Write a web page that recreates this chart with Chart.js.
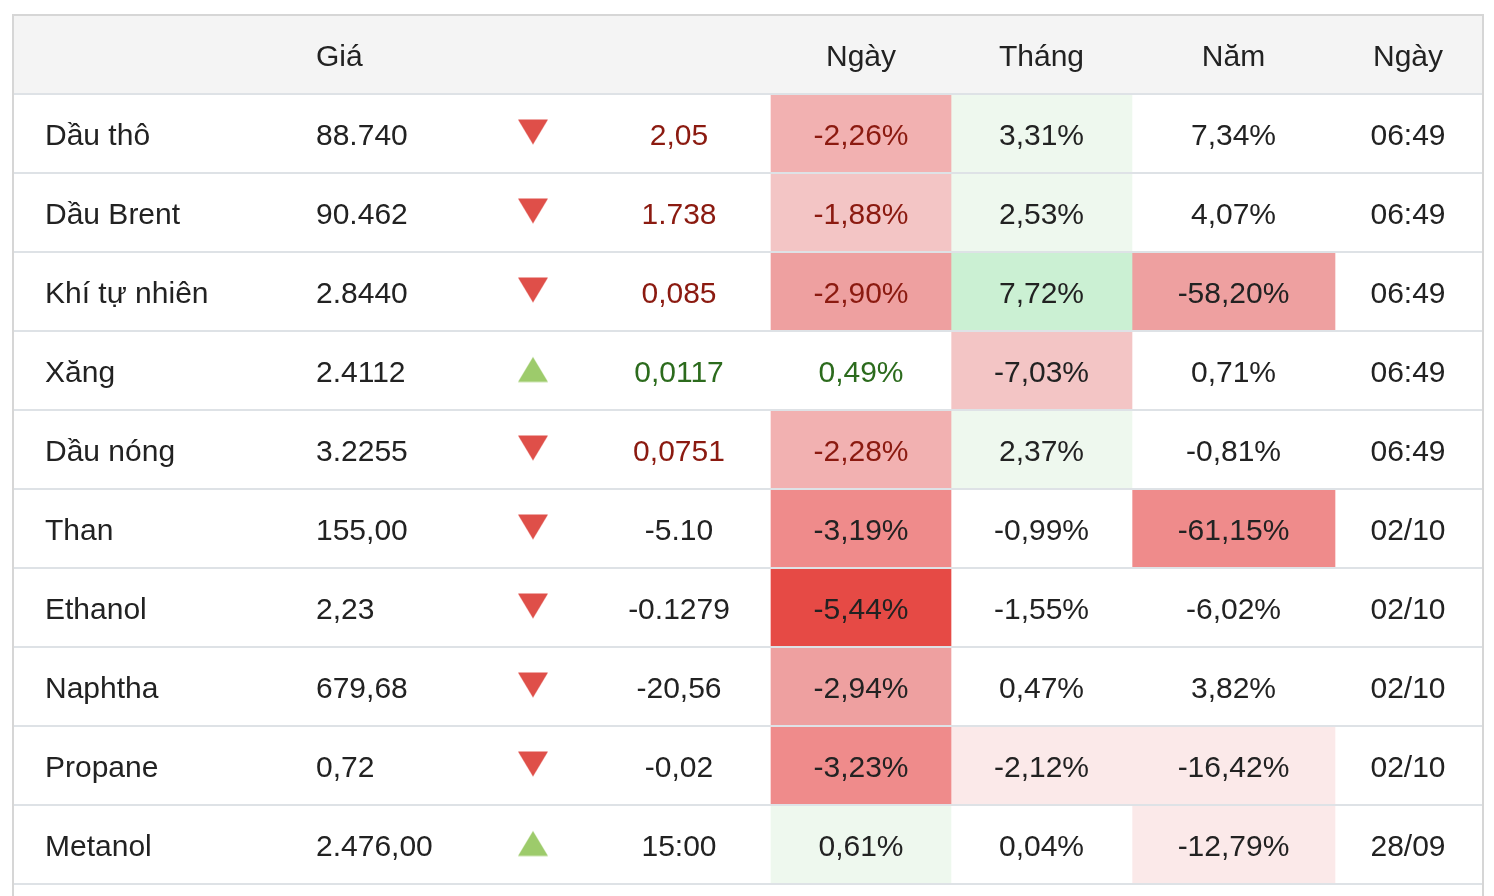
<!DOCTYPE html>
<html>
<head>
<meta charset="utf-8">
<script src="https://cdn.jsdelivr.net/npm/chart.js@4.4.1/dist/chart.umd.min.js"></script>
<style>
  html, body { margin: 0; padding: 0; background: #ffffff; }
  #c { display: block; }
</style>
</head>
<body>
<canvas id="c" width="1494" height="896"></canvas>
<script>
// ---------- DATA ----------
const headers = ['', 'Giá', '', '', 'Ngày', 'Tháng', 'Năm', 'Ngày'];
const names = ['Dầu thô', 'Dầu Brent', 'Khí tự nhiên', 'Xăng', 'Dầu nóng', 'Than', 'Ethanol', 'Naphtha', 'Propane', 'Metanol'];
const prices = ['88.740', '90.462', '2.8440', '2.4112', '3.2255', '155,00', '2,23', '679,68', '0,72', '2.476,00'];
const directions = ['down', 'down', 'down', 'up', 'down', 'down', 'down', 'down', 'down', 'up'];
const changes = ['2,05', '1.738', '0,085', '0,0117', '0,0751', '-5.10', '-0.1279', '-20,56', '-0,02', '15:00'];
const dayPct = [-2.26, -1.88, -2.90, 0.49, -2.28, -3.19, -5.44, -2.94, -3.23, 0.61];
const monthPct = [3.31, 2.53, 7.72, -7.03, 2.37, -0.99, -1.55, 0.47, -2.12, 0.04];
const yearPct = [7.34, 4.07, -58.20, 0.71, -0.81, -61.15, -6.02, 3.82, -16.42, -12.79];
const times = ['06:49', '06:49', '06:49', '06:49', '06:49', '02/10', '02/10', '02/10', '02/10', '28/09'];
// heat level of each cell (negative = red shades, positive = green shades, 0 = none)
const dayHeat = [-3, -2, -4, 0, -3, -5, -6, -4, -5, 1];
const monthHeat = [1, 1, 2, -2, 1, 0, 0, 0, -1, 0];
const yearHeat = [0, 0, -4, 0, 0, -5, 0, 0, -1, -1];
// text tone of the change / day columns
const tones = ['neg', 'neg', 'neg', 'pos', 'neg', '', '', '', '', ''];

// ---------- STYLE / LAYOUT ----------
const TABLE_W = 1470;
const COL = {
  name: 32, price: 303, arrow: 520, change: 666,
  day: [758, 938], month: [938, 1119], year: [1119, 1322], time: 1395
};
const HEAT = {
  '-6': '#e64a45', '-5': '#ef8b8b', '-4': '#eea0a0', '-3': '#f2b1b1',
  '-2': '#f3c5c5', '-1': '#fbe9e9', '0': '#ffffff', '1': '#eef8ee', '2': '#cbf0d3'
};
const TEXT = '#222222', NEG = '#8b1a10', POS = '#2c6b1d';
const FONT = '30px "Liberation Sans", Arial, Helvetica, sans-serif';

const rowLabels = [''].concat(names);
const fmtPct = v => v.toFixed(2).replace('.', ',') + '%';

function triangle(dir, color) {
  const cv = document.createElement('canvas');
  cv.width = 32; cv.height = 32;
  const g = cv.getContext('2d');
  g.fillStyle = color;
  g.beginPath();
  if (dir === 'down') { g.moveTo(1, 2); g.lineTo(31, 2); g.lineTo(16, 27); }
  else { g.moveTo(16, 2.5); g.lineTo(31, 27.5); g.lineTo(1, 27.5); }
  g.closePath(); g.fill();
  return cv;
}
const downImg = triangle('down', '#df4f49');
const upImg = triangle('up', '#9dcb6b');

function heatDataset(span, levels) {
  return {
    type: 'bar', grouped: false, indexAxis: 'y',
    data: rowLabels.map((_, i) => i === 0 ? null : span.slice()),
    backgroundColor: ctx => HEAT[String(levels[ctx.dataIndex - 1] ?? 0)],
    borderWidth: 0, barPercentage: 1, categoryPercentage: 1
  };
}

const textPlugin = {
  id: 'cellText',
  afterDatasetsDraw(chart) {
    const { ctx } = chart;
    const xs = chart.scales.x, ys = chart.scales.y;
    const X = v => xs.getPixelForValue(v);
    ctx.save();
    ctx.font = FONT;
    ctx.textBaseline = 'alphabetic';
    const put = (txt, x, row, align, color) => {
      ctx.fillStyle = color; ctx.textAlign = align;
      ctx.fillText(txt, x, ys.getPixelForValue(row) + 11);
    };
    // header
    put(headers[1], X(COL.price), 0, 'left', TEXT);
    put(headers[4], X((COL.day[0] + COL.day[1]) / 2), 0, 'center', TEXT);
    put(headers[5], X((COL.month[0] + COL.month[1]) / 2), 0, 'center', TEXT);
    put(headers[6], X((COL.year[0] + COL.year[1]) / 2), 0, 'center', TEXT);
    put(headers[7], X(COL.time), 0, 'center', TEXT);
    names.forEach((n, i) => {
      const r = i + 1;
      const tc = tones[i] === 'neg' ? NEG : tones[i] === 'pos' ? POS : TEXT;
      put(n, X(COL.name), r, 'left', TEXT);
      put(prices[i], X(COL.price), r, 'left', TEXT);
      put(changes[i], X(COL.change), r, 'center', tc);
      put(fmtPct(dayPct[i]), X((COL.day[0] + COL.day[1]) / 2), r, 'center', tc);
      put(fmtPct(monthPct[i]), X((COL.month[0] + COL.month[1]) / 2), r, 'center', TEXT);
      put(fmtPct(yearPct[i]), X((COL.year[0] + COL.year[1]) / 2), r, 'center', TEXT);
      put(times[i], X(COL.time), r, 'center', TEXT);
    });
    ctx.restore();
  },
  afterDraw(chart) {
    const { ctx, chartArea: a } = chart;
    ctx.save();
    ctx.strokeStyle = '#d6d6d6';
    ctx.lineWidth = 2;
    ctx.beginPath();
    ctx.moveTo(a.left, chart.height); ctx.lineTo(a.left, a.top);
    ctx.lineTo(a.right, a.top); ctx.lineTo(a.right, chart.height);
    ctx.stroke();
    ctx.restore();
  }
};

new Chart(document.getElementById('c'), {
  type: 'bar',
  data: {
    labels: rowLabels,
    datasets: [
      {
        type: 'bar', grouped: false, indexAxis: 'y',
        data: rowLabels.map((_, i) => i === 0 ? [0, TABLE_W] : null),
        backgroundColor: '#f4f4f4', borderWidth: 0, barPercentage: 1, categoryPercentage: 1
      },
      heatDataset(COL.day, dayHeat),
      heatDataset(COL.month, monthHeat),
      heatDataset(COL.year, yearHeat),
      {
        type: 'scatter',
        data: names.map(n => ({ x: COL.arrow, y: n })),
        pointStyle: ctx => directions[ctx.dataIndex] === 'up' ? upImg : downImg,
        radius: 10, hoverRadius: 10
      }
    ]
  },
  options: {
    indexAxis: 'y',
    responsive: false,
    animation: false,
    events: [],
    layout: { padding: { left: 13, right: 11, top: 15, bottom: 12 } },
    plugins: { legend: { display: false }, tooltip: { enabled: false } },
    scales: {
      x: { type: 'linear', min: 0, max: TABLE_W, display: false },
      y: {
        type: 'category', labels: rowLabels, offset: true,
        ticks: { display: false },
        border: { display: false },
        grid: {
          offset: true, drawTicks: false, lineWidth: 2, z: 1,
          color: ctx => ctx.index === 0 ? '#d6d6d6' : '#dee2e6'
        },
        afterFit(scale) { scale.width = 0; }
      }
    }
  },
  plugins: [textPlugin]
});
</script>
</body>
</html>
